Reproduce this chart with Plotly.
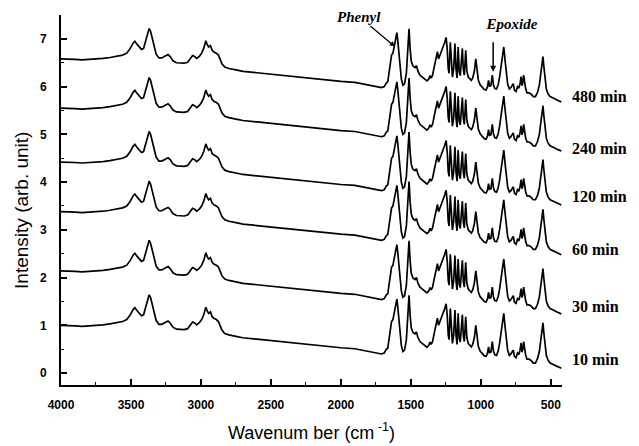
import plotly.graph_objects as go

# ---- data (10 min spectrum, absolute values) ----
wavenumber = [
    4000, 3950, 3900, 3850, 3800, 3750, 3700, 3650, 3600, 3560, 3530, 3505, 3485, 3472, 3460,
    3445, 3425, 3410, 3395, 3380, 3370, 3360, 3348, 3335, 3320, 3300, 3280, 3255, 3235, 3220,
    3200, 3175, 3150, 3120, 3095, 3075, 3060, 3045, 3030, 3010, 2995, 2980, 2965, 2955, 2945,
    2932, 2920, 2905, 2890, 2875, 2865, 2850, 2830, 2800, 2750, 2700, 2600, 2500, 2400, 2360,
    2340, 2300, 2200, 2100, 2000, 1900, 1800, 1750, 1710, 1690, 1675,
    1665, 1655, 1645, 1638, 1628, 1618, 1608, 1600, 1594, 1585, 1578, 1568, 1557, 1545, 1532,
    1522, 1513, 1505, 1497, 1485, 1470, 1460, 1450, 1435, 1420, 1400, 1385, 1372, 1363, 1355,
    1345, 1332, 1320, 1310, 1302, 1295, 1285, 1270, 1258, 1248, 1240, 1233, 1227, 1218, 1210,
    1203, 1194, 1185, 1177, 1170, 1162, 1154, 1147, 1140, 1132, 1125, 1118, 1108, 1100, 1090,
    1080, 1068, 1058, 1046, 1036, 1028, 1018, 1005, 990, 975, 962, 952, 945, 938, 928,
    918, 910, 900, 888, 876, 866, 856, 846, 836, 826, 818, 808, 796, 785, 775,
    768, 760, 748, 738, 728, 720, 712, 706, 700, 694, 688, 680, 670, 655, 640,
    625, 610, 595, 582, 572, 563, 556, 550, 542, 532, 520, 505, 490, 470, 455,
    440, 425,
]
spectrum_10min = [
    1.00, 1.00, 0.99, 0.98, 0.99, 0.99, 1.01, 1.03, 1.05, 1.08, 1.12, 1.22, 1.33, 1.37, 1.32,
    1.27, 1.20, 1.22, 1.40, 1.58, 1.64, 1.58, 1.42, 1.25, 1.10, 1.02, 1.02, 1.06, 1.09, 1.05,
    0.96, 0.92, 0.91, 0.91, 0.93, 1.00, 1.07, 1.05, 1.01, 1.06, 1.12, 1.22, 1.38, 1.30, 1.25,
    1.28, 1.18, 1.14, 1.12, 1.08, 1.00, 0.90, 0.83, 0.80, 0.77, 0.74, 0.71, 0.68, 0.65, 0.64,
    0.62, 0.61, 0.58, 0.55, 0.53, 0.51, 0.45, 0.41, 0.40, 0.42, 0.50,
    0.52, 0.70, 0.95, 1.08, 1.12, 1.30, 1.45, 1.55, 1.40, 1.05, 0.85, 0.58, 0.45, 0.48, 0.70,
    1.10, 1.63, 1.20, 0.95, 0.85, 0.82, 0.86, 0.75, 0.66, 0.62, 0.57, 0.54, 0.58, 0.65, 0.60,
    0.66, 0.85, 1.05, 1.15, 1.00, 1.05, 1.15, 1.25, 1.35, 1.45, 1.20, 0.80, 0.70, 1.35, 0.75,
    0.62, 0.80, 1.32, 0.78, 0.60, 1.25, 0.72, 0.65, 0.95, 1.22, 0.78, 0.66, 1.18, 0.75, 0.62,
    0.58, 0.55, 0.60, 0.75, 1.00, 0.78, 0.56, 0.46, 0.41, 0.36, 0.35, 0.42, 0.55, 0.43, 0.44,
    0.66, 0.46, 0.38, 0.37, 0.46, 0.62, 0.80, 0.98, 1.25, 0.95, 0.70, 0.47, 0.37, 0.40, 0.45,
    0.48, 0.35, 0.32, 0.42, 0.39, 0.48, 0.63, 0.44, 0.50, 0.66, 0.48, 0.38, 0.29, 0.29, 0.26,
    0.21, 0.21, 0.30, 0.45, 0.65, 0.88, 1.05, 0.85, 0.60, 0.37, 0.27, 0.21, 0.19, 0.17, 0.14,
    0.12, 0.10,
]
times = ["10 min", "30 min", "60 min", "120 min", "240 min", "480 min"]
offsets = [0.0, 1.14, 2.38, 3.42, 4.55, 5.58]
label_y = [0.28, 1.40, 2.58, 3.69, 4.71, 5.79]
x_ticks = [4000, 3500, 3000, 2500, 2000, 1500, 1000, 500]
y_ticks = [0, 1, 2, 3, 4, 5, 6, 7]

fig = go.Figure()
for t, off in zip(times, offsets):
    fig.add_trace(go.Scatter(
        x=wavenumber, y=[v + off for v in spectrum_10min], mode="lines", name=t,
        line=dict(color="black", width=1.7), showlegend=False, hoverinfo="skip"))

label_font = dict(family="Liberation Serif", size=16, color="black", weight="bold")
note_font = dict(family="Liberation Serif", size=15, color="black", weight="bold")
title_font = dict(family="Liberation Sans", size=18, color="black")

ann = []
for t, ly in zip(times, label_y):
    ann.append(dict(x=1.015, xref="paper", y=ly, yref="y", text=t, showarrow=False,
                    xanchor="left", yanchor="middle", font=label_font))
ann.append(dict(x=1614, y=6.84, xref="x", yref="y", text="<i>Phenyl</i>", showarrow=True,
                ax=-36, ay=-30, arrowhead=2, arrowsize=0.8, arrowwidth=1.3, arrowcolor="black",
                standoff=0, startstandoff=0, font=note_font))
ann.append(dict(x=912, y=6.31, xref="x", yref="y",
                text="&nbsp;" * 10 + "<i>Epoxide</i>", showarrow=True,
                ax=0, ay=-48, arrowhead=2, arrowsize=0.8, arrowwidth=1.5, arrowcolor="black",
                startstandoff=9, font=note_font))
# axis titles
ann.append(dict(x=-0.078, y=0.473, xref="paper", yref="paper", text="Intensity (arb. unit)",
                textangle=-90, showarrow=False, xanchor="center", yanchor="middle",
                font=dict(family="Liberation Sans", size=19, color="black")))
ann.append(dict(x=0.5, y=-0.125, xref="paper", yref="paper", text="Wavenum ber (cm<sup> -1</sup>)",
                showarrow=False, xanchor="center", yanchor="middle", font=title_font))

axis_common = dict(showline=True, linecolor="black", linewidth=2, mirror=False,
                   showgrid=False, zeroline=False, ticks="inside", ticklen=6, tickwidth=1.5,
                   tickcolor="black", automargin=False,
                   tickfont=dict(family="Liberation Sans", size=12, color="black", weight="bold"))

fig.update_layout(
    width=639, height=446,
    margin=dict(l=61, r=77, t=15, b=61),
    paper_bgcolor="white", plot_bgcolor="white",
    annotations=ann,
    xaxis=dict(range=[4000, 420], tickmode="array", tickvals=x_ticks,
               minor=dict(dtick=250, tick0=500, ticks="inside", ticklen=3, tickcolor="black", tickwidth=1.2),
               ticklabelstandoff=8, **axis_common),
    yaxis=dict(range=[-0.25, 7.5], tickmode="array", tickvals=y_ticks,
               minor=dict(dtick=0.5, tick0=0, ticks="inside", ticklen=3, tickcolor="black", tickwidth=1.2),
               ticklabelstandoff=10, **axis_common),
)

fig.write_html("out.html")
